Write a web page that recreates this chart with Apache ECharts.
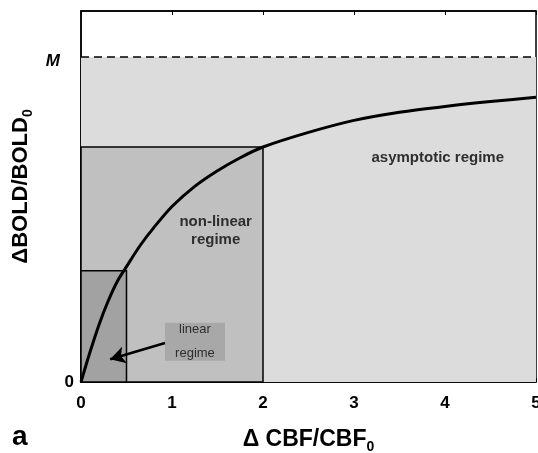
<!DOCTYPE html>
<html>
<head>
<meta charset="utf-8">
<script src="https://cdn.jsdelivr.net/npm/echarts@6/dist/echarts.min.js"></script>
<style>
  body { margin: 0; background: #fff; }
  #chart { width: 538px; height: 453px; }
</style>
</head>
<body>
<div id="chart"></div>
<script>
// curve (M = 1)
const cbf = [0, 0.1, 0.2, 0.3, 0.4, 0.5, 0.65, 0.8, 1, 1.25, 1.5, 1.75, 2, 2.5, 3, 3.5, 4, 4.5, 5];
const bold = [0, 0.093, 0.178, 0.25, 0.31, 0.355, 0.42, 0.475, 0.54, 0.602, 0.65, 0.69, 0.723, 0.768, 0.805, 0.83, 0.848, 0.863, 0.876];
const xTicks = [0, 1, 2, 3, 4, 5];
const yTickLabels = { 0: '0', 1: 'M' };
const mLevel = 1;
const yTop = 1.1415;
// regime boxes [x end, height]
const linearBox = [0.5, 0.342];
const nonlinearBox = [2, 0.723];

const font = 'Liberation Sans, Arial, Helvetica, sans-serif';

let curve = [];
for (let i = 0; i < cbf.length; i++) {
  curve.push([cbf[i], bold[i]]);
}

let chart = echarts.init(document.getElementById('chart'));
let option = {
  animation: false,
  grid: {
    left: 81,
    right: 2,
    top: 11,
    bottom: 71,
    outerBoundsMode: 'none',
    show: true,
    borderColor: '#000',
    borderWidth: 1.5,
    backgroundColor: 'transparent'
  },
  xAxis: [
    {
      type: 'value',
      min: xTicks[0],
      max: xTicks[xTicks.length - 1],
      interval: 1,
      splitLine: { show: false },
      axisLine: { lineStyle: { color: '#000', width: 1.5 } },
      axisTick: { inside: true, length: 4, lineStyle: { color: '#000' } },
      axisLabel: {
        margin: 13,
        color: '#000',
        fontSize: 17,
        fontWeight: 'bold',
        fontFamily: font
      },
      name: '{d|Δ CBF/CBF}{s|0}',
      nameLocation: 'middle',
      nameGap: 44,
      nameTextStyle: {
        rich: {
          d: { fontSize: 23, fontWeight: 'bold', fontFamily: font, color: '#000', lineHeight: 28 },
          s: { fontSize: 14, fontWeight: 'bold', fontFamily: font, color: '#000', lineHeight: 12, verticalAlign: 'bottom' }
        }
      }
    },
    {
      type: 'value',
      position: 'top',
      min: xTicks[0],
      max: xTicks[xTicks.length - 1],
      interval: 1,
      splitLine: { show: false },
      axisLine: { lineStyle: { color: '#000', width: 1.5 } },
      axisTick: { inside: true, length: 4, lineStyle: { color: '#000' } },
      axisLabel: { show: false }
    }
  ],
  yAxis: {
    type: 'value',
    min: 0,
    max: yTop,
    interval: 1,
    splitLine: { show: false },
    axisLine: { lineStyle: { color: '#000', width: 1.5 } },
    axisTick: { show: false },
    axisLabel: {
      margin: 7,
      color: '#000',
      fontSize: 17,
      fontWeight: 'bold',
      fontFamily: font,
      formatter: function (v) {
        if (v === 1) return '{m|' + yTickLabels[1] + '}';
        if (v === 0) return yTickLabels[0];
        return '';
      },
      rich: {
        m: { fontSize: 17, fontWeight: 'bold', fontStyle: 'italic', fontFamily: font, color: '#000', padding: [8, 14, 0, 0] }
      }
    },
    name: '{d|ΔBOLD/BOLD}{s|0}',
    nameLocation: 'middle',
    nameRotate: 90,
    nameGap: 40,
    nameTextStyle: {
      padding: [0, 0, 0, 20],
      rich: {
        d: { fontSize: 22, fontWeight: 'bold', fontFamily: font, color: '#000', lineHeight: 28 },
        s: { fontSize: 14, fontWeight: 'bold', fontFamily: font, color: '#000', lineHeight: 12, verticalAlign: 'bottom' }
      }
    }
  },
  series: [
    {
      // area under M with dashed limit
      type: 'line',
      z: 1,
      symbol: 'none',
      data: [[xTicks[0], mLevel], [xTicks[xTicks.length - 1], mLevel]],
      lineStyle: { color: '#000', width: 1.6, type: [8, 5] },
      areaStyle: { color: '#dcdcdc', opacity: 1 }
    },
    {
      // regime boxes and labels (dummy invisible point so the markers render)
      type: 'line',
      z: 2,
      symbol: 'none',
      data: [[0, 0]],
      lineStyle: { width: 0, opacity: 0 },
      markArea: {
        silent: true,
        z: 2,
        data: [
          [
            { coord: [0, 0], itemStyle: { color: '#c0c0c0', borderColor: '#000', borderWidth: 1.5 } },
            { coord: [nonlinearBox[0], nonlinearBox[1]] }
          ],
          [
            { coord: [0, 0], itemStyle: { color: '#a2a2a2', borderColor: '#000', borderWidth: 1.5 } },
            { coord: [linearBox[0], linearBox[1]] }
          ],
          [
            {
              coord: [0.923, 0.065],
              itemStyle: { color: '#a8a8a8', borderWidth: 0 },
              label: {
                show: true,
                position: 'inside',
                formatter: 'linear\nregime',
                color: '#2e2e2e',
                fontSize: 13,
                fontFamily: font,
                lineHeight: 24
              }
            },
            { coord: [1.582, 0.182] }
          ]
        ]
      },
      markPoint: {
        silent: true,
        z: 5,
        symbol: 'circle',
        symbolSize: 0,
        label: {
          show: true,
          position: 'inside',
          color: '#2e2e2e',
          fontSize: 15,
          fontWeight: 'bold',
          fontFamily: font,
          lineHeight: 18
        },
        data: [
          { coord: [1.48, 0.465], value: 'non-linear\nregime', label: { formatter: 'non-linear\nregime' } },
          { coord: [3.92, 0.69], value: 'asymptotic regime', label: { formatter: 'asymptotic regime' } }
        ]
      },
      markLine: {
        silent: true,
        z: 5,
        symbol: ['none', 'arrow'],
        symbolSize: [13, 15],
        label: { show: false },
        lineStyle: { color: '#000', width: 2.5, type: 'solid' },
        data: [
          [{ coord: [0.923, 0.12] }, { coord: [0.32, 0.07] }]
        ]
      }
    },
    {
      type: 'line',
      z: 3,
      symbol: 'none',
      smooth: 0.3,
      data: curve,
      lineStyle: { color: '#000', width: 3 }
    }
  ],
  graphic: [
    {
      type: 'text',
      left: 12,
      top: 423,
      style: { text: 'a', fontSize: 28, fontWeight: 'bold', fontFamily: font, fill: '#000' }
    }
  ]
};
chart.setOption(option);
</script>
</body>
</html>
